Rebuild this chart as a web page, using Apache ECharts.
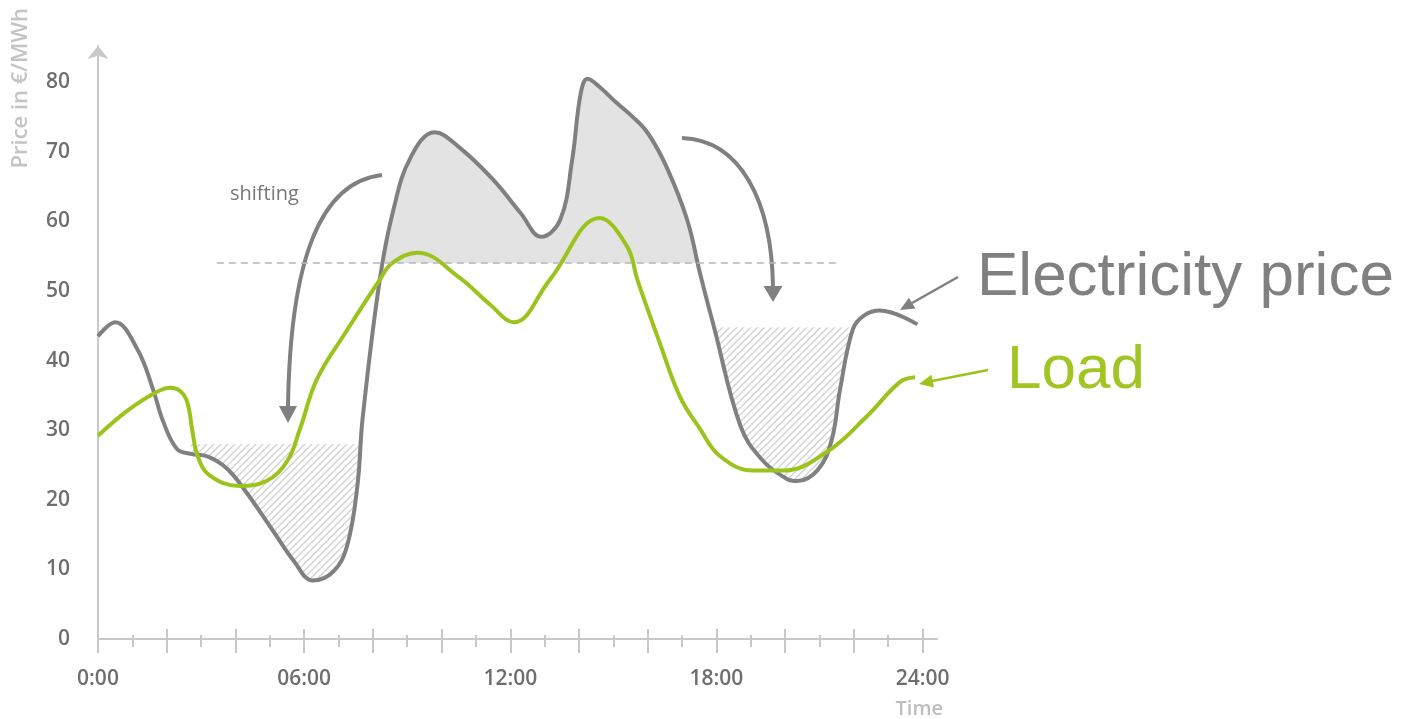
<!DOCTYPE html>
<html>
<head>
<meta charset="utf-8">
<script src="https://cdn.jsdelivr.net/npm/echarts@6/dist/echarts.min.js"></script>
<style>
html,body{margin:0;padding:0;background:#fff;}
#c{width:1414px;height:719px;}
</style>
</head>
<body>
<div id="c"></div>
<script>
// ---- data (hours, €/MWh) ----
const priceTime  = [0.0, 0.5, 1.15, 1.6, 1.9, 2.3, 2.7, 3.2, 3.75, 4.3, 5.1, 5.7, 6.25, 6.85, 7.25, 7.55, 7.7, 8.2, 8.6, 9.1, 9.8, 10.5, 11.5, 12.3, 12.9, 13.45, 13.8, 14.05, 14.25, 14.6, 15.1, 15.5, 16.0, 16.55, 17.15, 17.52, 17.93, 18.7, 19.3, 20.05, 20.35, 20.95, 21.35, 21.6, 21.97, 22.3, 22.75, 23.85];
const priceValue = [43.5, 45.5, 41.6, 35.9, 31.2, 27.3, 26.6, 26.2, 24.5, 21.2, 15.5, 11.2, 8.4, 9.7, 13.4, 22.0, 31.6, 51.6, 61.7, 69.2, 72.8, 70.7, 66.0, 61.2, 57.8, 60.2, 68.8, 78.4, 80.5, 79.3, 77.0, 75.3, 72.7, 67.8, 60.2, 52.6, 44.8, 30.6, 25.9, 23.0, 22.7, 24.3, 28.5, 35.9, 44.5, 46.5, 47.2, 45.2];
const loadTime  = [0.0, 0.8, 1.6, 2.1, 2.4, 2.6, 2.75, 2.9, 3.25, 4.1, 4.9, 5.5, 5.88, 6.37, 7.2, 8.2, 8.56, 9.3, 10.5, 11.4, 12.1, 13.15, 14.6, 15.4, 15.7, 16.36, 16.94, 17.52, 18.1, 19.06, 19.94, 21.22, 22.38, 23.34, 23.78];
const loadValue = [29.2, 32.6, 35.2, 36.1, 35.6, 34.0, 29.8, 26.3, 23.5, 22.0, 22.7, 25.5, 30.2, 37.3, 44.0, 51.6, 54.0, 55.5, 52.0, 48.1, 45.5, 51.6, 60.5, 56.4, 51.6, 42.4, 34.8, 30.2, 26.3, 24.2, 24.2, 26.9, 32.0, 36.9, 37.6];
const referenceLevel = 54;          // dashed average line
const referenceSpan  = [3.46, 21.54];
const lowLevel1 = 28,   lowSpan1 = [2.7, 7.7];
const lowLevel2 = 44.8, lowSpan2 = [17.93, 21.97];
const xLabelValues = [0, 6, 12, 18, 24];
const yLabelValues = [0, 10, 20, 30, 40, 50, 60, 70, 80];
const majorTicks = [0, 2, 4, 6, 8, 10, 12, 14, 16, 18, 20, 22, 24];
const minorTicks = [1, 3, 5, 7, 9, 11, 13, 15, 17, 19, 21, 23];

const price = priceTime.map((t, i) => [t, priceValue[i]]);
const load = loadTime.map((t, i) => [t, loadValue[i]]);
const inSpan = (s) => price.filter(p => p[0] >= s[0] - 1e-9 && p[0] <= s[1] + 1e-9);

// hatch pattern
const pc = document.createElement('canvas');
pc.width = 7; pc.height = 7;
const g = pc.getContext('2d');
g.strokeStyle = '#d2d2d2'; g.lineWidth = 1.3;
g.beginPath();
g.moveTo(-1, 8); g.lineTo(8, -1);
g.moveTo(-1, 1); g.lineTo(1, -1);
g.moveTo(6, 8); g.lineTo(8, 6);
g.stroke();
const hatch = { image: pc, repeat: 'repeat' };

const GRAY = '#808080', GREEN = '#9cc31c', AXIS = '#c8c8c8', FILL = '#e3e3e3';
const labelFont = { color: '#6e6e6e', fontSize: 21, fontWeight: 600, fontFamily: 'Open Sans' };
const gridBox = { left: 98, top: 46, width: 839, height: 595 };
const X_MAX = 24.42, Y_MAX = 85.2;
const H = 719;
const curve = { smooth: 0.4, symbol: 'none' };

const chart = echarts.init(document.getElementById('c'), null, { renderer: 'canvas' });
const option = {
  animation: false,
  backgroundColor: '#fff',
  grid: [Object.assign({}, gridBox), Object.assign({}, gridBox), Object.assign({}, gridBox)],
  xAxis: [
    {
      gridIndex: 0, type: 'value', min: 0, max: X_MAX,
      axisLine: { lineStyle: { color: AXIS, width: 2 } },
      axisTick: { show: false }, splitLine: { show: false },
      axisLabel: Object.assign({
        customValues: xLabelValues, margin: 30,
        formatter: v => (v === 0 ? '0' : (v < 10 ? '0' + v : '' + v)) + ':00'
      }, labelFont),
      name: 'Time', nameLocation: 'end', nameGap: 6,
      nameTextStyle: { color: '#bdbdbd', fontSize: 20, fontWeight: 600, fontFamily: 'Open Sans',
        align: 'right', verticalAlign: 'top', padding: [60, 0, 0, 0] }
    },
    {
      gridIndex: 1, type: 'value', min: 0, max: X_MAX, offset: -12,
      axisLine: { show: false }, axisLabel: { show: false }, splitLine: { show: false },
      axisTick: { show: true, customValues: majorTicks, length: 24, lineStyle: { color: AXIS, width: 2 } }
    },
    {
      gridIndex: 2, type: 'value', min: 0, max: X_MAX, offset: -6,
      axisLine: { show: false }, axisLabel: { show: false }, splitLine: { show: false },
      axisTick: { show: true, customValues: minorTicks, length: 12, lineStyle: { color: AXIS, width: 2 } }
    }
  ],
  yAxis: [
    {
      gridIndex: 0, type: 'value', min: 0, max: Y_MAX,
      axisLine: { show: true, symbol: ['none', 'arrow'], symbolSize: [16, 13], lineStyle: { color: AXIS, width: 2 } },
      axisTick: { show: false }, splitLine: { show: false },
      axisLabel: Object.assign({ customValues: yLabelValues, margin: 28 }, labelFont),
      name: 'Price in €/MWh', nameLocation: 'end', nameRotate: 90, nameGap: 38,
      nameTextStyle: { color: '#c4c4c4', fontSize: 22, fontWeight: 600, fontFamily: 'Open Sans',
        align: 'right', verticalAlign: 'bottom', padding: [0, 0, 66, 0] }
    },
    { gridIndex: 1, type: 'value', show: false, min: 0, max: Y_MAX },
    { gridIndex: 2, type: 'value', show: false, min: 0, max: Y_MAX }
  ],
  series: [
    Object.assign({ // solid grey area above the reference line
      type: 'line', data: price, silent: true,
      lineStyle: { width: 0, opacity: 0 },
      areaStyle: { color: FILL, origin: referenceLevel, opacity: 1 }, z: 1
    }, curve),
    Object.assign({ // hatched area 1
      type: 'line', data: inSpan(lowSpan1), silent: true,
      lineStyle: { width: 0, opacity: 0 },
      areaStyle: { color: hatch, origin: lowLevel1, opacity: 1 }, z: 1
    }, curve),
    Object.assign({ // hatched area 2
      type: 'line', data: inSpan(lowSpan2), silent: true,
      lineStyle: { width: 0, opacity: 0 },
      areaStyle: { color: hatch, origin: lowLevel2, opacity: 1 }, z: 1
    }, curve),
    Object.assign({
      name: 'Electricity price', type: 'line', data: price,
      lineStyle: { color: GRAY, width: 4 }, z: 3,
      markLine: {
        silent: true, symbol: 'none', label: { show: false },
        lineStyle: { color: '#b6b6ba', width: 1.5, type: [7, 5] },
        data: [[{ coord: [referenceSpan[0], referenceLevel] }, { coord: [referenceSpan[1], referenceLevel] }]]
      }
    }, curve),
    Object.assign({
      name: 'Load', type: 'line', data: load,
      lineStyle: { color: GREEN, width: 4 }, z: 4
    }, curve)
  ],
  graphic: [
    { type: 'text', x: 230, y: 194, style: { text: 'shifting', font: '400 20px "Open Sans"', fill: '#787878', verticalAlign: 'middle' } },
    // shifting arrows
    { type: 'bezierCurve', shape: { x1: 382, y1: 175, cpx1: 320, cpy1: 182, cpx2: 290, cpy2: 260, x2: 288, y2: 408 }, style: { stroke: GRAY, lineWidth: 4, fill: null } },
    { type: 'polygon', shape: { points: [[279, 406], [297, 406], [288, 423]] }, style: { fill: GRAY } },
    { type: 'bezierCurve', shape: { x1: 682, y1: 138, cpx1: 740, cpy1: 140, cpx2: 772, cpy2: 200, x2: 773, y2: 288 }, style: { stroke: GRAY, lineWidth: 4, fill: null } },
    { type: 'polygon', shape: { points: [[763.5, 286], [782.5, 286], [773, 302]] }, style: { fill: GRAY } },
    // pointer arrows and big labels
    { type: 'line', shape: { x1: 958, y1: 277, x2: 912, y2: 303 }, style: { stroke: GRAY, lineWidth: 2.5 } },
    { type: 'polygon', shape: { points: [[915.5, 308.5], [908.9, 297.7], [900, 310]] }, style: { fill: GRAY } },
    { type: 'line', shape: { x1: 988, y1: 370, x2: 932, y2: 381 }, style: { stroke: GREEN, lineWidth: 2.5 } },
    { type: 'polygon', shape: { points: [[934, 387.5], [931.4, 374.8], [919, 384]] }, style: { fill: GREEN } },
    { type: 'text', x: 977, y: 278, style: { text: 'Electricity price', font: '62px "Liberation Sans"', fill: '#808080', verticalAlign: 'middle' } },
    { type: 'text', x: 1007, y: 371, style: { text: 'Load', font: '62px "Liberation Sans"', fill: '#a2c524', verticalAlign: 'middle' } }
  ]
};
chart.setOption(option);

// keep the grey fill only above the reference level: vertical gradient cut at its pixel height
const yRef = chart.convertToPixel({ gridIndex: 0 }, [0, referenceLevel])[1];
const f = yRef / H;
chart.setOption({
  series: [{
    areaStyle: {
      color: {
        type: 'linear', x: 0, y: 0, x2: 0, y2: H, global: true,
        colorStops: [
          { offset: 0, color: FILL }, { offset: f, color: FILL },
          { offset: f, color: 'rgba(255,255,255,0)' }, { offset: 1, color: 'rgba(255,255,255,0)' }
        ]
      }
    }
  }]
});
</script>
</body>
</html>
